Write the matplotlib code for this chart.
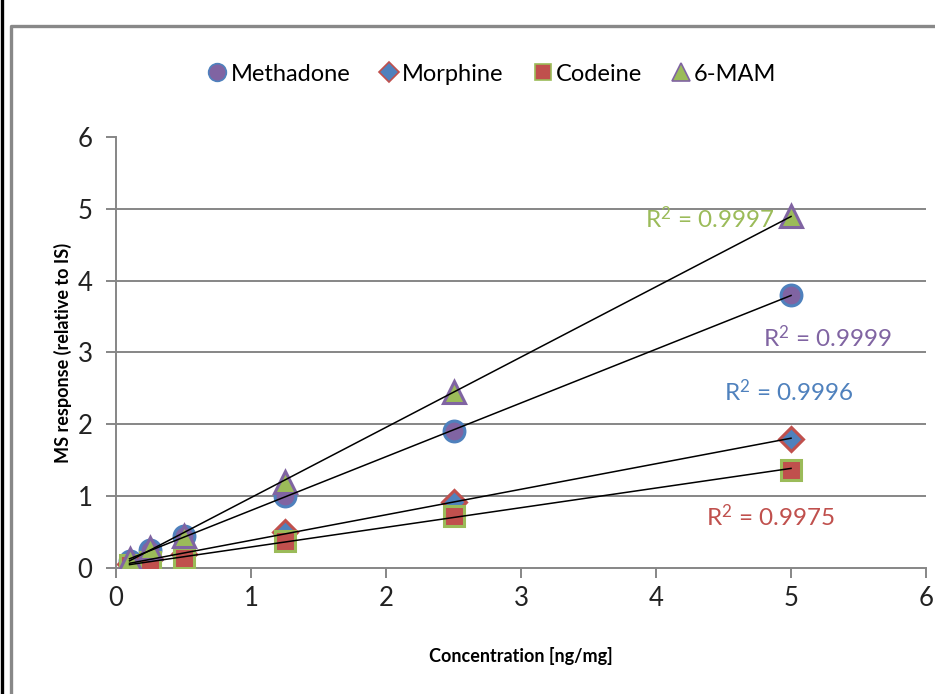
import numpy as np
import matplotlib
matplotlib.use("Agg")
import matplotlib.pyplot as plt
from matplotlib.lines import Line2D

plt.rcParams['font.family'] = ['Lato', 'DejaVu Sans']
plt.rcParams['mathtext.fontset'] = 'custom'
plt.rcParams['mathtext.rm'] = 'Lato'
plt.rcParams['mathtext.it'] = 'Lato'

# concentrations (ng/mg)
conc = [0.1, 0.25, 0.5, 1.25, 2.5, 5.0]

methadone = [0.10, 0.25, 0.45, 1.00, 1.90, 3.80]
morphine = [0.05, 0.12, 0.20, 0.50, 0.92, 1.80]
codeine = [0.04, 0.08, 0.14, 0.38, 0.73, 1.37]
mam6 = [0.12, 0.28, 0.45, 1.20, 2.45, 4.90]

names = ['Methadone', 'Morphine', 'Codeine', '6-MAM']
r2_labels = ['R$^2$ = 0.9999', 'R$^2$ = 0.9996', 'R$^2$ = 0.9975', 'R$^2$ = 0.9997']
r2_pos = [(4.79, 3.2), (4.5, 2.45), (4.37, 0.71), (3.92, 4.87)]

blue = '#4F81BD'
red = '#C0504D'
green = '#9BBB59'
purple = '#8064A2'

fills = [purple, blue, red, green]
edges = [blue, red, green, purple]
marks = ['o', 'D', 's', '^']
sizes = [15, 12, 14, 16]
txtcol = [purple, blue, red, green]

fig = plt.figure(figsize=(9.35, 6.94), dpi=100)
ax = fig.add_axes([0.1241, 0.1816, 0.8663, 0.621])

series = [methadone, morphine, codeine, mam6]
for i, ys in enumerate(series):
    ax.plot(conc, ys, linestyle='none', marker=marks[i], ms=sizes[i],
            mfc=fills[i], mec=edges[i], mew=2.2, zorder=3 + i,
            label=names[i])

# linear trendlines
for i, ys in enumerate(series):
    k, b = np.polyfit(conc, ys, 1)
    xx = np.array([conc[0], conc[-1]])
    ax.plot(xx, k * xx + b, color='black', lw=1.1, zorder=10)
    ax.text(r2_pos[i][0], r2_pos[i][1], r2_labels[i], color=txtcol[i],
            fontsize=17.5, ha='left', va='center')

ax.set_xlim(0, 6)
ax.set_ylim(0, 6)
ax.set_xticks(range(7))
ax.set_yticks(range(7))
for yv in range(1, 6):
    ax.axhline(yv, color='#868686', lw=1.4, zorder=1)

for s in ['top', 'right']:
    ax.spines[s].set_visible(False)
for s in ['left', 'bottom']:
    ax.spines[s].set_color('#868686')
    ax.spines[s].set_linewidth(1.4)
ax.tick_params(axis='both', colors='#868686', labelcolor='#222222',
               labelsize=18.5, length=7, width=1.4, direction='out')
ax.tick_params(axis='x', pad=6)
ax.tick_params(axis='y', pad=10)

ax.set_xlabel('Concentration [ng/mg]', fontsize=13, fontweight='bold',
              labelpad=26)
ax.set_ylabel('MS response (relative to IS)', fontsize=13, fontweight='bold',
              labelpad=4)

leg_handles = [Line2D([], [], linestyle='none', marker=marks[i],
                      ms=sizes[i] * 0.85, mfc=fills[i], mec=edges[i], mew=1.2)
               for i in range(4)]
fig.legend(leg_handles, names, loc='center', bbox_to_anchor=(0.525, 0.893),
           ncol=4, frameon=False, fontsize=17, handletextpad=0.05,
           columnspacing=1.15, handlelength=1.0)

# outer borders
fig.add_artist(Line2D([1.5 / 935, 1.5 / 935], [0, 1], color='black',
                      lw=2.4, transform=fig.transFigure))
yt = 1 - 26 / 694
xl = 10.5 / 935
fig.add_artist(Line2D([xl, xl, 1], [0, yt, yt], color='#888888',
                      lw=2.4, transform=fig.transFigure))

fig.savefig('out.png', dpi=100)
